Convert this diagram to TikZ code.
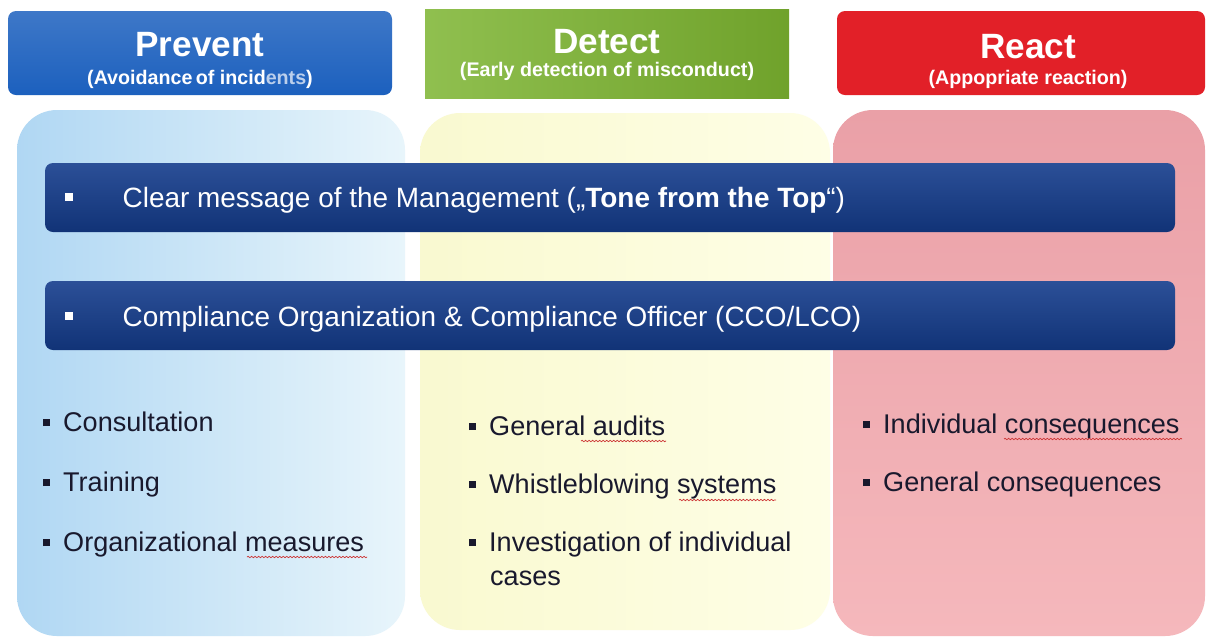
\documentclass[tikz,border=0pt]{standalone}
\usepackage{fontspec}
\setmainfont{Liberation Sans}
\usetikzlibrary{positioning,decorations.pathmorphing}
\definecolor{prevblue}{RGB}{28,96,190}
\definecolor{detgreen}{RGB}{124,180,48}
\definecolor{reactred}{RGB}{226,32,40}
\definecolor{barnavy}{RGB}{20,60,140}
\definecolor{inktxt}{RGB}{25,25,45}
\newcommand{\sqb}{\rule[0.18em]{0.14cm}{0.14cm}\hspace{0.26cm}}
\newcommand{\wsq}{\rule[0.22em]{0.15cm}{0.15cm}\hspace{1.0cm}}

\begin{document}
\begin{tikzpicture}[x=0.02cm,y=-0.02cm,
	hbox/.style={rounded corners=0.16cm},
	htitle/.style={anchor=base,text=white,font=\fontsize{20}{24}\selectfont\bfseries},
	hsub/.style={anchor=base,text=white,font=\fontsize{11.2}{13}\selectfont\bfseries},
	panel/.style={rounded corners=0.8cm},
	bar/.style={rounded corners=0.16cm,top color=barnavy!90!white,bottom color=barnavy!85!black},
	bartxt/.style={anchor=base west,text=white,font=\fontsize{15.9}{18}\selectfont},
	item/.style={anchor=base west,text=inktxt,font=\fontsize{15.4}{18}\selectfont},
	spell/.style={red!60!gray,thin,decorate,decoration={snake,amplitude=0.4pt,segment length=2pt}}]
	\useasboundingbox (0,0) rectangle (1210,637);
	\fill[white] (0,0) rectangle (1210,637);

	\shade[panel,left color={rgb,255:red,176;green,215;blue,243},right color={rgb,255:red,232;green,245;blue,251}] (17,110) rectangle (405,636);
	\shade[panel,left color={rgb,255:red,249;green,249;blue,208},right color={rgb,255:red,254;green,254;blue,230}] (420,113) rectangle (830,630);
	\shade[panel,top color={rgb,255:red,234;green,160;blue,167},bottom color={rgb,255:red,245;green,184;blue,188}] (833,110) rectangle (1205,636);

	\shade[hbox,top color=prevblue!85!white,bottom color=prevblue] (8,11) rectangle (392,95);
	\shade[left color=detgreen!85!white,right color=detgreen!90!black] (425,9) rectangle (789,98);
	\fill[hbox,reactred] (837,11) rectangle (1205,95);

	\node[htitle] (prev) at (200,56) {Prevent};
	\node[hsub] (prevsub) at (200,84) {(Avoidance\,of incid{\color{white!70!prevblue}ents})};
	\node[htitle] (det) at (607,53) {Detect};
	\node[hsub] (detsub) at (607,76) {(Early detection of misconduct)};
	\node[htitle] (react) at (1028,58) {React};
	\node[hsub] (reactsub) at (1028,84) {(Appopriate reaction)};

	\shade[bar] (45,163) rectangle (1175,232);
	\shade[bar] (45,281) rectangle (1175,350);
	\node[bartxt] (tone) at (59,207) {\wsq Clear message of the Management („\textbf{Tone from the Top}“)};
	\node[bartxt] (cco) at (59,326) {\wsq Compliance Organization \& Compliance Officer (CCO/LCO)};

	\foreach \t [count=\i] in {Consultation,Training,Organizational measures}
		\node[item] (prev\i) at (37,{431+60*(\i-1)}) {\sqb\t};
	\foreach \t [count=\i] in {General audits,Whistleblowing systems,Investigation of individual}
		\node[item] (det\i) at (463,{435+58*(\i-1)}) {\sqb\t};
	\node[item] (det4) at (484,585) {cases};
	\foreach \t [count=\i] in {Individual consequences,General consequences}
		\node[item] (react\i) at (857,{433+58*(\i-1)}) {\sqb\t};

	\draw[spell] (247,557) -- (367,557);
	\draw[spell] (581,441) -- (666,441);
	\draw[spell] (679,500) -- (776,500);
	\draw[spell] (1004,439) -- (1182,439);
\end{tikzpicture}
\end{document}
